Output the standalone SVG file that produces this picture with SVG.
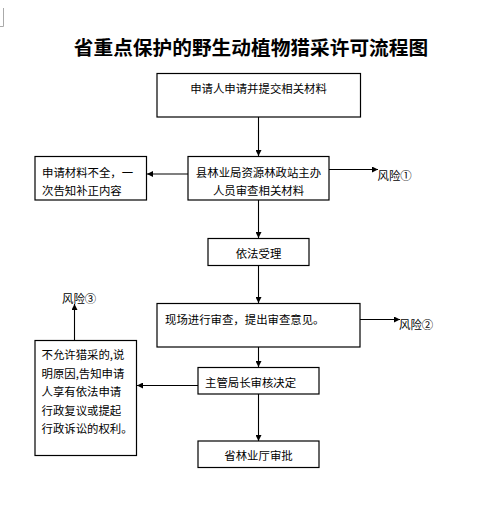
<svg xmlns="http://www.w3.org/2000/svg" width="497" height="510" viewBox="0 0 497 510">
<style>
text{font-family:"SimSun","Noto Sans CJK SC",sans-serif;font-size:11.4px;fill:#000;dominant-baseline:central}
.title{font-size:19.7px;font-weight:bold}
.box{fill:#fff;stroke:#000;stroke-width:1.2}
.c{text-anchor:middle}
.line{stroke:#000;stroke-width:1.1;fill:none}
</style>
<defs>
<marker id="ah" viewBox="0 0 10 10" refX="10" refY="5" markerWidth="6" markerHeight="6" markerUnits="userSpaceOnUse" orient="auto">
<path d="M0,0 L10,5 L0,10 z" fill="#000"/>
</marker>
</defs>
<rect width="497" height="510" fill="#fff"/>
<path d="M3.5,8 V26.5 H0" stroke="#aaa" stroke-width="1" fill="none"/>
<text class="title c" x="251" y="46.5">省重点保护的野生动植物猎采许可流程图</text>
<g id="connectors">
<line class="line" x1="258.5" y1="117" x2="258.5" y2="156" marker-end="url(#ah)"/>
<line class="line" x1="188" y1="174" x2="147" y2="174" marker-end="url(#ah)"/>
<line class="line" x1="329" y1="169.5" x2="378" y2="169.5" marker-end="url(#ah)"/>
<line class="line" x1="258.5" y1="200" x2="258.5" y2="238" marker-end="url(#ah)"/>
<line class="line" x1="258.5" y1="266" x2="258.5" y2="303" marker-end="url(#ah)"/>
<line class="line" x1="360" y1="319.5" x2="400" y2="319.5" marker-end="url(#ah)"/>
<line class="line" x1="258.5" y1="347" x2="258.5" y2="367" marker-end="url(#ah)"/>
<line class="line" x1="198" y1="385.5" x2="137" y2="385.5" marker-end="url(#ah)"/>
<line class="line" x1="74.5" y1="340" x2="74.5" y2="304" marker-end="url(#ah)"/>
<line class="line" x1="258.5" y1="394" x2="258.5" y2="441" marker-end="url(#ah)"/>
</g>
<g id="n1">
<rect class="box" x="157" y="73.5" width="203.5" height="43.5"/>
<text class="c" x="258.5" y="88">申请人申请并提交相关材料</text>
</g>
<g id="n2">
<rect class="box" x="188" y="156.5" width="141" height="43.5"/>
<text class="c" x="258.5" y="171.5">县林业局资源林政站主办</text>
<text class="c" x="258.5" y="189.5">人员审查相关材料</text>
</g>
<g id="n3">
<rect class="box" x="35" y="156.5" width="111.5" height="43.5"/>
<text x="42" y="171.5">申请材料不全，一</text>
<text x="42" y="189.5">次告知补正内容</text>
</g>
<g id="r1"><text x="377.5" y="174.5">风险①</text></g>
<g id="n4">
<rect class="box" x="208" y="238.5" width="101" height="27"/>
<text class="c" x="258.5" y="252.5">依法受理</text>
</g>
<g id="n5">
<rect class="box" x="157" y="303.5" width="203" height="43.5"/>
<text x="165" y="318.5">现场进行审查，提出审查意见。</text>
</g>
<g id="r2"><text x="399" y="323.5">风险②</text></g>
<g id="n6">
<rect class="box" x="198" y="367.5" width="121" height="26.5"/>
<text x="205" y="381.5">主管局长审核决定</text>
</g>
<g id="n7">
<rect class="box" x="35" y="340.5" width="101.5" height="115"/>
<text x="41.5" y="354">不允许猎采的,说</text>
<text x="41.5" y="372.5">明原因,告知申请</text>
<text x="41.5" y="391">人享有依法申请</text>
<text x="41.5" y="409.5">行政复议或提起</text>
<text x="41.5" y="428">行政诉讼的权利。</text>
</g>
<g id="r3"><text x="62" y="297.5">风险③</text></g>
<g id="n8">
<rect class="box" x="198" y="441" width="121" height="26.5"/>
<text class="c" x="258.5" y="455">省林业厅审批</text>
</g>
</svg>
